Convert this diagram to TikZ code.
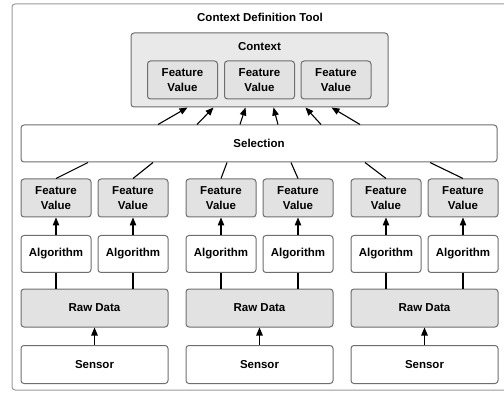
\documentclass[tikz,border=0pt]{standalone}
\usepackage{fontspec}
\setmainfont{Liberation Sans}
\usetikzlibrary{arrows.meta,positioning}
\definecolor{boxline}{HTML}{6E6E6E}
\definecolor{boxfill}{HTML}{E2E2E2}
\begin{document}
\begin{tikzpicture}[x=1pt,y=-1pt,
  every node/.style = {font=\fontsize{11.5}{15}\selectfont\bfseries},
  box/.style = {draw=boxline, line width=1pt, rounded corners=3pt, inner sep=0pt, align=center},
  grey/.style = {box, fill=boxfill},
  white/.style = {box, fill=white},
  fv/.style = {grey, minimum width=70pt, minimum height=38pt},
  algo/.style = {white, minimum width=70pt, minimum height=37pt},
  wide/.style = {minimum width=147pt, minimum height=38pt},
  arr/.style = {-{Triangle[length=8pt,width=6.5pt]}, line width=1.1pt},
  link/.style = {line width=1.1pt},
  node distance=17.5pt]
	\useasboundingbox (0,0) rectangle (504,393);
	\draw[draw=boxline!70, line width=1pt, rounded corners=3pt] (12,4) rectangle (510,390);
	\node (title) at (260,17) {Context Definition Tool};
	% context block
	\node[grey, minimum width=257pt, minimum height=74pt, fill=boxfill!75,
	  label={[anchor=north, yshift=-6pt]north:Context}] (ctx) at (259.5,70) {};
	\node[fv] (c1) at (182.5,80) {Feature\\Value};
	\node[fv] (c2) at (259.5,80) {Feature\\Value};
	\node[fv] (c3) at (336,80) {Feature\\Value};
	\node[white, minimum width=476pt, minimum height=37pt] (sel) at (259,143.5) {Selection};
	% feature values per sensor
	\node[fv] (f1) at (56,198) {Feature\\Value};
	\node[fv] (f2) at (133,198) {Feature\\Value};
	\node[fv] (f3) at (221,198) {Feature\\Value};
	\node[fv] (f4) at (298,198) {Feature\\Value};
	\node[fv] (f5) at (386,198) {Feature\\Value};
	\node[fv] (f6) at (463,198) {Feature\\Value};
	\node[algo] (a1) [below=of f1] {Algorithm};
	\node[algo] (a2) [below=of f2] {Algorithm};
	\node[algo] (a3) [below=of f3] {Algorithm};
	\node[algo] (a4) [below=of f4] {Algorithm};
	\node[algo] (a5) [below=of f5] {Algorithm};
	\node[algo] (a6) [below=of f6] {Algorithm};
	\node[grey, wide] (r1) at (94.5,308) {Raw Data};
	\node[grey, wide] (r2) at (259.5,308) {Raw Data};
	\node[grey, wide] (r3) at (424.5,308) {Raw Data};
	\node[white, wide] (s1) [below=of r1] {Sensor};
	\node[white, wide] (s2) [below=of r2] {Sensor};
	\node[white, wide] (s3) [below=of r3] {Sensor};
	% selection to context
	\draw[arr] ([xshift=-101pt]sel.north) -- ([xshift=-72pt]ctx.south);
	\draw[arr] ([xshift=-62pt]sel.north) -- ([xshift=-46pt]ctx.south);
	\draw[arr] ([xshift=-19pt]sel.north) -- ([xshift=-14pt]ctx.south);
	\draw[arr] ([xshift=19pt]sel.north) -- ([xshift=14pt]ctx.south);
	\draw[arr] ([xshift=62pt]sel.north) -- ([xshift=46pt]ctx.south);
	\draw[arr] ([xshift=101pt]sel.north) -- ([xshift=72pt]ctx.south);
	% feature values to selection
	\draw[link] ([xshift=-171pt]sel.south) -- (f1.north);
	\draw[link] ([xshift=-106pt]sel.south) -- (f2.north);
	\draw[link] ([xshift=-32pt]sel.south) -- (f3.north);
	\draw[link] ([xshift=32pt]sel.south) -- (f4.north);
	\draw[link] ([xshift=106pt]sel.south) -- (f5.north);
	\draw[link] ([xshift=171pt]sel.south) -- (f6.north);
	% algorithms
	\draw[arr] (a1) -- (f1);
	\draw[arr] (a2) -- (f2);
	\draw[arr] (a3) -- (f3);
	\draw[arr] (a4) -- (f4);
	\draw[arr] (a5) -- (f5);
	\draw[arr] (a6) -- (f6);
	\draw[link] (a1.south) -- (a1.south |- r1.north);
	\draw[link] (a2.south) -- (a2.south |- r1.north);
	\draw[link] (a3.south) -- (a3.south |- r2.north);
	\draw[link] (a4.south) -- (a4.south |- r2.north);
	\draw[link] (a5.south) -- (a5.south |- r3.north);
	\draw[link] (a6.south) -- (a6.south |- r3.north);
	% sensors
	\draw[arr] (s1) -- (r1);
	\draw[arr] (s2) -- (r2);
	\draw[arr] (s3) -- (r3);
\end{tikzpicture}
\end{document}
